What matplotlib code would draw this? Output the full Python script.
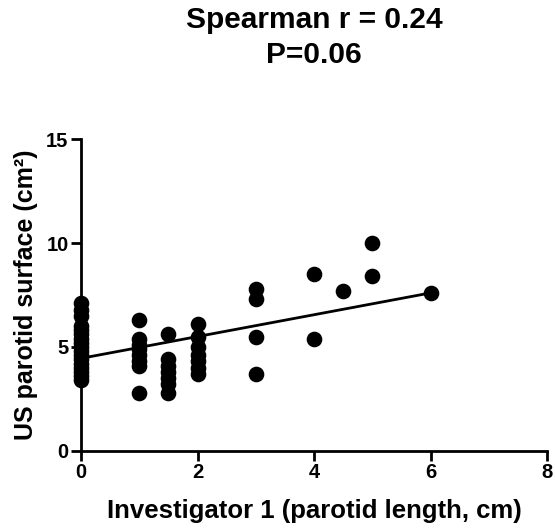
import matplotlib
matplotlib.use("Agg")
import matplotlib.pyplot as plt

plt.rcParams['font.family'] = ['Liberation Sans', 'DejaVu Sans']

# length groups (x) and surface values (y)
x0 = [0] * 17
y0 = [3.4, 3.6, 3.8, 4.0, 4.2, 4.4, 4.6, 4.8, 5.0, 5.2, 5.4, 5.6, 5.8, 6.0, 6.5, 6.8, 7.1]
x1 = [1] * 8
y1 = [6.3, 5.4, 5.1, 4.9, 4.6, 4.3, 4.1, 2.8]
x15 = [1.5] * 7
y15 = [5.6, 4.4, 4.1, 3.8, 3.5, 3.2, 2.8]
x2 = [2] * 7
y2 = [6.1, 5.5, 5.0, 4.6, 4.3, 4.0, 3.7]
x_hi = [3, 3, 3, 3, 4, 4, 4.5, 5, 5, 6]
y_hi = [7.8, 7.3, 5.5, 3.7, 8.5, 5.4, 7.7, 10.0, 8.4, 7.6]

fit_x = [0, 6]
fit_y = [4.45, 7.6]

xs = x0 + x1 + x15 + x2 + x_hi
ys = y0 + y1 + y15 + y2 + y_hi

fig = plt.figure(figsize=(5.55, 5.31), dpi=100)
ax = fig.add_axes([0.146, 0.151, 0.840, 0.587])

ax.scatter(xs, ys, s=105, color='black', zorder=3, clip_on=False)
ax.plot(fit_x, fit_y, color='black', lw=2, zorder=2)

ax.set_xlim(0, 8)
ax.set_ylim(0, 15)
ax.set_xticks([0, 2, 4, 6, 8])
ax.set_yticks([0, 5, 10, 15])
for s in ['top', 'right']:
    ax.spines[s].set_visible(False)
for s in ['left', 'bottom']:
    ax.spines[s].set_linewidth(2)
ax.tick_params(direction='out', length=7, width=2, labelsize=14.5, pad=2)
for lab in ax.get_xticklabels() + ax.get_yticklabels():
    lab.set_fontweight('bold')

ax.set_xlabel('Investigator 1 (parotid length, cm)', fontsize=18.5, fontweight='bold', labelpad=12)
ax.set_ylabel('US parotid surface (cm²)', fontsize=18, fontweight='bold', labelpad=6)

tx = 0.146 + 0.840 / 2
fig.text(tx, 1 - 28 / 531, 'Spearman r = 0.24', ha='center', va='baseline',
         fontsize=21.5, fontweight='bold')
fig.text(tx, 1 - 63 / 531, 'P=0.06', ha='center', va='baseline',
         fontsize=21.5, fontweight='bold')

fig.savefig('out.png', dpi=100)
